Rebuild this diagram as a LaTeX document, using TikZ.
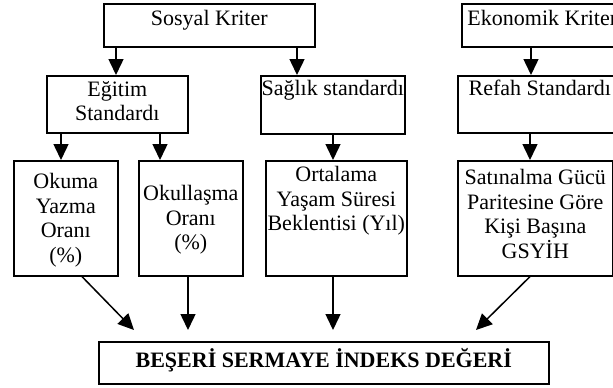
\documentclass[tikz,border=0pt]{standalone}
\usepackage{fontspec}
\setmainfont{Liberation Serif}
\usetikzlibrary{arrows.meta}
\begin{document}
\begin{tikzpicture}[x=1pt,y=-1pt,
  box/.style={draw, line width=1.6pt, inner sep=0pt, align=center, anchor=north west,
    font=\fontsize{22}{24.5}\selectfont},
  arr/.style={line width=1.5pt, -{Triangle[length=16pt,width=15pt]}}]
\useasboundingbox (0,0) rectangle (613,388);
\clip (0,0) rectangle (613,388);
% top row
\node[box, minimum width=211pt, text height=22pt, text depth=21pt] (sosyal) at (103,3) {Sosyal Kriter};
\node[box, minimum width=161pt, text height=22pt, text depth=21pt] (ekonomik) at (461,3) {Ekonomik Kriter};
% second row
\node[box, minimum width=141pt, text height=45pt, text depth=12pt] (egitim) at (46,75) {Eğitim\\Standardı};
\node[box, minimum width=144pt, text height=20pt, text depth=38pt] (saglik) at (260,75) {Sağlık standardı};
\node[box, minimum width=164pt, text height=20pt, text depth=37pt] (refah) at (457,75) {Refah Standardı};
% third row
\node[box, minimum width=104pt, text height=101.5pt, text depth=13.5pt] (okuma) at (13,160) {Okuma\\Yazma\\Oranı\\(\%)};
\node[box, minimum width=104pt, text height=89pt, text depth=26pt] (okullasma) at (138,160) {Okullaşma\\Oranı\\(\%)};
\node[box, minimum width=141pt, text height=70pt, text depth=45pt] (ortalama) at (265,160) {Ortalama\\Yaşam Süresi\\Beklentisi (Yıl)};
\node[box, minimum width=155pt, text height=97.5pt, text depth=17.5pt] (satin) at (457,160) {Satınalma Gücü\\Paritesine Göre\\Kişi Başına\\GSYİH};
% bottom
\node[box, minimum width=450pt, text height=26pt, text depth=16pt] (index) at (98,341) {\textbf{BEŞERİ SERMAYE İNDEKS DEĞERİ}};
\coordinate (t1) at (134,330);
\coordinate (t2) at (188,330);
\coordinate (t3) at (333,330);
\coordinate (t4) at (476,330);
% arrows
\draw[arr] (116,0 |- sosyal.south) -- (116,0 |- egitim.north);
\draw[arr] (297,0 |- sosyal.south) -- (297,0 |- saglik.north);
\draw[arr] (531,0 |- ekonomik.south) -- (531,0 |- refah.north);
\draw[arr] (61,0 |- egitim.south) -- (61,0 |- okuma.north);
\draw[arr] (160,0 |- egitim.south) -- (160,0 |- okullasma.north);
\draw[arr] (333,0 |- saglik.south) -- (333,0 |- ortalama.north);
\draw[arr] (530,0 |- refah.south) -- (530,0 |- satin.north);
\draw[arr] (82,0 |- okuma.south) -- (t1);
\draw[arr] (188,0 |- okullasma.south) -- (t2);
\draw[arr] (333,0 |- ortalama.south) -- (t3);
\draw[arr] (530,0 |- satin.south) -- (t4);
\end{tikzpicture}
\end{document}
